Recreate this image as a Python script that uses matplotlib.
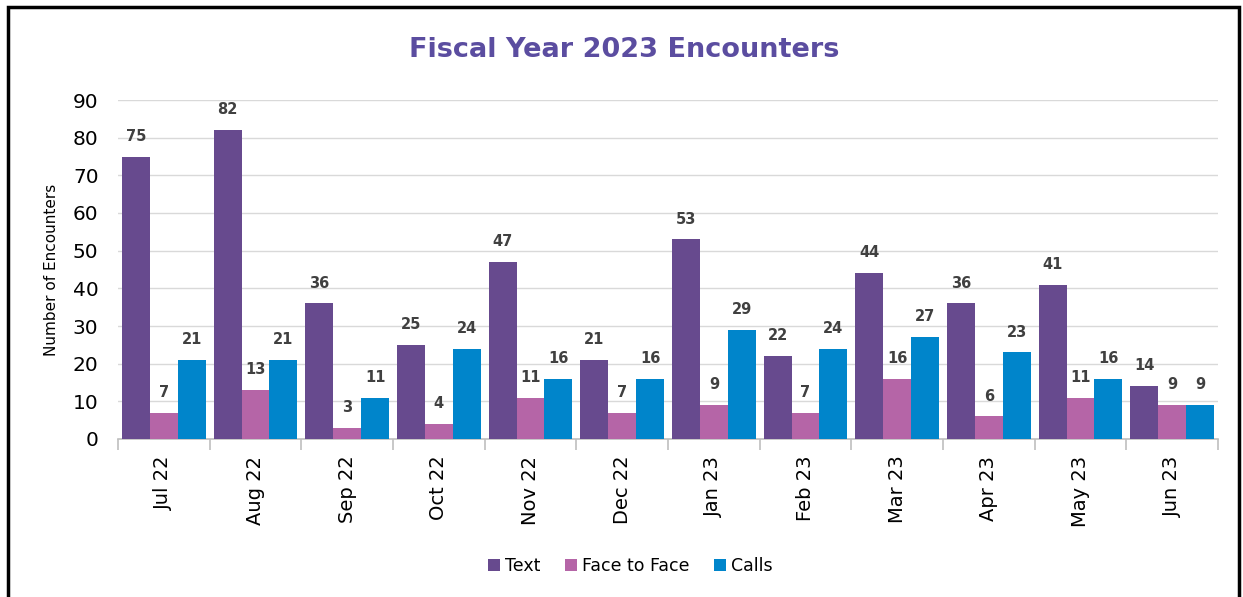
import matplotlib.pyplot as plt
import numpy as np
from matplotlib.patches import Rectangle

months = ["Jul 22", "Aug 22", "Sep 22", "Oct 22", "Nov 22", "Dec 22",
          "Jan 23", "Feb 23", "Mar 23", "Apr 23", "May 23", "Jun 23"]
text_counts = [75, 82, 36, 25, 47, 21, 53, 22, 44, 36, 41, 14]
face_counts = [7, 13, 3, 4, 11, 7, 9, 7, 16, 6, 11, 9]
call_counts = [21, 21, 11, 24, 16, 16, 29, 24, 27, 23, 16, 9]

series = [("Text", text_counts, "#674A8E"),
          ("Face to Face", face_counts, "#B565A7"),
          ("Calls", call_counts, "#0085CB")]

fig = plt.figure(figsize=(12.43, 5.97), dpi=100)
ax = fig.add_axes([118 / 1243, 1 - 439 / 597, 1100 / 1243, 339 / 597])

x = np.arange(len(months))
w = 0.305
for i, (name, vals, col) in enumerate(series):
    pos = x + (i - 1) * w
    bars = ax.bar(pos, vals, width=w, color=col, label=name, zorder=3)
    for b, v in zip(bars, vals):
        ax.text(b.get_x() + b.get_width() / 2, v + 3.4, str(v), ha="center", va="bottom",
                fontsize=10.5, fontweight="bold", color="#404040", zorder=4)

ax.set_xlim(-0.5, len(months) - 0.5)
ax.set_ylim(0, 90)
ax.set_yticks(range(0, 91, 10))
ax.tick_params(axis="y", length=0, labelsize=14.5, pad=14)
ax.yaxis.grid(True, color="#D9D9D9", linewidth=1.0, zorder=0)
ax.set_xticks(x)
ax.set_xticklabels(months, rotation=90, fontsize=14)
ax.tick_params(axis="x", length=0, pad=12)
ax.set_xticks(np.arange(-0.5, len(months), 1), minor=True)
ax.tick_params(axis="x", which="minor", length=8, color="#BFBFBF", width=1.2)
for s in ["left", "right", "top"]:
    ax.spines[s].set_visible(False)
ax.spines["bottom"].set_color("#BFBFBF")
ax.spines["bottom"].set_linewidth(1.2)

ax.set_ylabel("Number of Encounters", fontsize=11)
ax.yaxis.set_label_coords(-0.054, 0.5)

fig.text(0.502, 1 - 50 / 597, "Fiscal Year 2023 Encounters", ha="center", va="center",
         fontsize=19.5, fontweight="bold", color="#5B4DA0")

fig.legend(loc="center", bbox_to_anchor=(0.507, 1 - 566 / 597), ncol=3, frameon=False,
           fontsize=12.5, handlelength=0.7, handleheight=0.7, handletextpad=0.3, columnspacing=1.4)

fig.patches.append(Rectangle((8 / 1243, -0.02), 1231 / 1243, 1.02 - 7 / 597,
                             transform=fig.transFigure, fill=False, edgecolor="black",
                             linewidth=2.5))

fig.savefig("out.png", dpi=100)
